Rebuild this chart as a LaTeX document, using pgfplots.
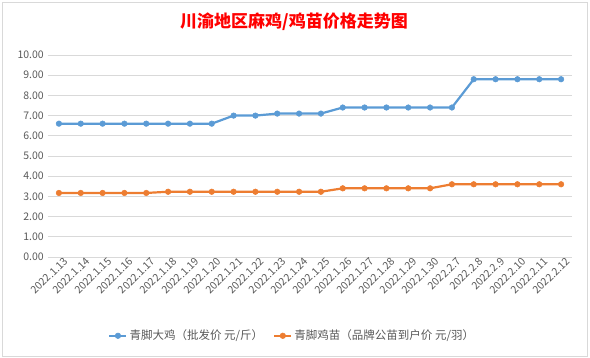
\documentclass[border=0pt]{standalone}
\usepackage{pgfplots}
\pgfplotsset{compat=1.18}
\usepackage{fontspec}
\setmainfont{Noto Sans CJK SC}
\definecolor{sblue}{HTML}{5B9BD5}
\definecolor{sorange}{HTML}{ED7D31}
\definecolor{gridgray}{HTML}{D9D9D9}
\definecolor{txtgray}{HTML}{595959}
\begin{document}
\begin{tikzpicture}[x=1pt,y=1pt]
\useasboundingbox (0,0) rectangle (590,358);
\draw[gridgray] (2,2) rectangle (587,356);
\node[text=red, font=\fontsize{17}{20}\selectfont\bfseries] at (294,336) {川渝地区麻鸡/鸡苗价格走势图};
\begin{axis}[
  at={(48pt,101pt)}, anchor=south west,
  scale only axis, width=524pt, height=202pt,
  xmin=-0.5, xmax=23.5, ymin=0, ymax=10,
  xtick={0,...,23},
  xticklabels={2022.1.13,2022.1.14,2022.1.15,2022.1.16,2022.1.17,2022.1.18,2022.1.19,2022.1.20,2022.1.21,2022.1.22,2022.1.23,2022.1.24,2022.1.25,2022.1.26,2022.1.27,2022.1.28,2022.1.29,2022.1.30,2022.2.7,2022.2.8,2022.2.9,2022.2.10,2022.2.11,2022.2.12},
  ytick={0,1,...,10},
  yticklabel style={/pgf/number format/.cd, fixed, fixed zerofill, precision=2, /tikz/.cd},
  /pgf/number format/assume math mode=true,
  ymajorgrids, grid style={gridgray, line width=0.8pt},
  axis line style={draw=none},
  major tick style={draw=none},
  ticklabel style={font=\fontsize{10.5}{12}\selectfont, text=txtgray},
  xticklabel style={rotate=45, anchor=north east, inner sep=0.5pt, xshift=4pt, yshift=-2pt},
  yticklabel style={inner sep=1pt, xshift=-3pt},
  legend style={at={(0.466,-0.39)}, anchor=center, draw=none, legend columns=2,
    font=\fontsize{11.5}{13}\selectfont, text=txtgray,
    /tikz/every even column/.append style={column sep=8pt}},
  legend cell align=left,
  clip=false,
]
\addplot[sblue, line width=2.2pt, mark=*, mark size=2.8pt, mark options={fill=sblue, line width=0.5pt}] coordinates {
(0,6.6)(1,6.6)(2,6.6)(3,6.6)(4,6.6)(5,6.6)(6,6.6)(7,6.6)(8,7.0)(9,7.0)(10,7.1)(11,7.1)(12,7.1)(13,7.4)(14,7.4)(15,7.4)(16,7.4)(17,7.4)(18,7.4)(19,8.8)(20,8.8)(21,8.8)(22,8.8)(23,8.8)};
\addlegendentry{青脚大鸡（批发价 元/斤）}
\addplot[sorange, line width=2.2pt, mark=*, mark size=2.8pt, mark options={fill=sorange, line width=0.5pt}] coordinates {
(0,3.17)(1,3.17)(2,3.17)(3,3.17)(4,3.17)(5,3.23)(6,3.23)(7,3.23)(8,3.23)(9,3.23)(10,3.23)(11,3.23)(12,3.23)(13,3.4)(14,3.4)(15,3.4)(16,3.4)(17,3.4)(18,3.6)(19,3.6)(20,3.6)(21,3.6)(22,3.6)(23,3.6)};
\addlegendentry{青脚鸡苗（品牌公苗到户价 元/羽）}
\end{axis}
\end{tikzpicture}
\end{document}
